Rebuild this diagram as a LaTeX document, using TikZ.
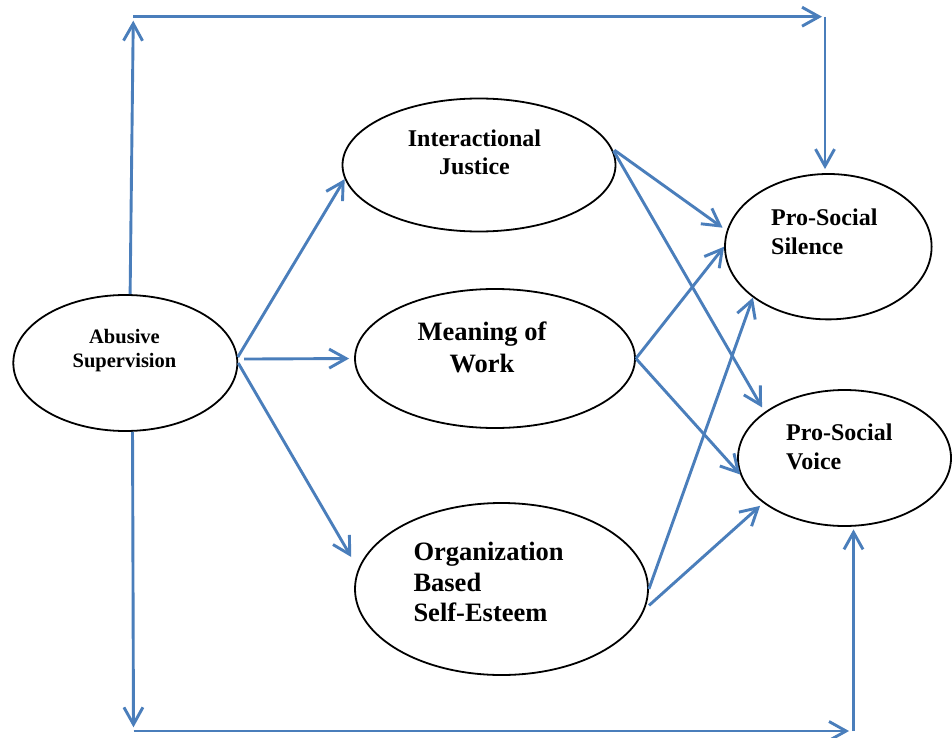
\documentclass[tikz,border=0pt]{standalone}
\usepackage{fontspec}
\setmainfont{Liberation Serif}
\usetikzlibrary{arrows.meta,shapes.geometric,calc}
\definecolor{arrowblue}{HTML}{4A7EBB}
\tikzset{
  construct/.style={ellipse, draw=black, line width=1.8pt, inner sep=0pt},
  lbl/.style={inner sep=0pt, text=black},
  link/.style={draw=arrowblue, line width=2.9pt, -{Straight Barb[length=17pt,width=19pt]}},
}
\begin{document}
\begin{tikzpicture}[x=1pt,y=-1pt]
\fill[white] (0,0) rectangle (952,738);
\useasboundingbox (0,0) rectangle (952,738);

% constructs
\node[construct, minimum width=224pt, minimum height=136pt] (abus) at (125.3,363) {};
\node[construct, minimum width=273pt, minimum height=133pt] (ij) at (479,165) {};
\node[construct, minimum width=280pt, minimum height=139pt] (mw) at (495,358.5) {};
\node[construct, minimum width=293pt, minimum height=172pt] (obse) at (501.5,589) {};
\node[construct, minimum width=206.6pt, minimum height=145.4pt] (sil) at (828.3,246.7) {};
\node[construct, minimum width=213pt, minimum height=136pt] (voice) at (844.5,458) {};

% labels
\node[lbl, align=center, font=\bfseries\fontsize{20.5}{24}\selectfont] (abusT) at (124.5,350.6) {Abusive\\Supervision};
\node[lbl, align=center, font=\bfseries\fontsize{24}{28}\selectfont] (ijT) at (474.5,152) {Interactional\\Justice};
\node[lbl, align=center, font=\bfseries\fontsize{26.5}{32}\selectfont] (mwT) at (482,347.7) {Meaning of\\Work};
\node[lbl, align=left, anchor=west, font=\bfseries\fontsize{26.5}{30.5}\selectfont] (obseT) at (413.3,582.3) {Organization\\Based\\Self-Esteem};
\node[lbl, align=left, anchor=west, font=\bfseries\fontsize{24}{28.3}\selectfont] (silT) at (771,231.9) {Pro-Social\\Silence};
\node[lbl, align=left, anchor=west, font=\bfseries\fontsize{24}{28.6}\selectfont] (voiceT) at (786,447) {Pro-Social\\Voice};

% corner points of the outer paths
\coordinate (topL) at (133.3,16.7);
\coordinate (topR) at (825,16.7);
\coordinate (botL) at (133.5,731);
\coordinate (botR) at (853.5,731);

% outer paths
\draw[link, shorten >=4pt] (abus.86.6) -- (topL);
\draw[link, shorten >=3pt] (topL) -- (topR);
\draw[link, shorten >=4pt] (topR) -- (topR |- sil.north);
\draw[link, shorten >=3.7pt] (abus.276.9) -- (botL);
\draw[link, shorten >=4.5pt] (botL) -- (botR);
\draw[link, shorten >=2.5pt] (botR) -- (botR |- voice.south);

% abusive supervision to mediators
\draw[link] (abus.3) -- (ij.186);
\draw[link, shorten <=6pt, shorten >=5pt] (abus.2) -- (mw.west);
\draw[link, shorten >=13.7pt] (abus.0) -- (obse.172.5);

% mediators to outcomes
\draw[link, shorten <=2.5pt, shorten >=5pt] (ij.7.5) -- (sil.171.3);
\draw[link, shorten <=2.5pt, shorten >=5.2pt] (ij.7.5) -- (voice.150.4);
\draw[link] (mw.east) -- (sil.180);
\draw[link] (mw.east) -- (voice.189.3);
\draw[link] (obse.east) -- (sil.214.5);
\draw[link, shorten <=5.6pt, shorten >=4.2pt] (obse.352.4) -- (voice.209.6);
\end{tikzpicture}
\end{document}
